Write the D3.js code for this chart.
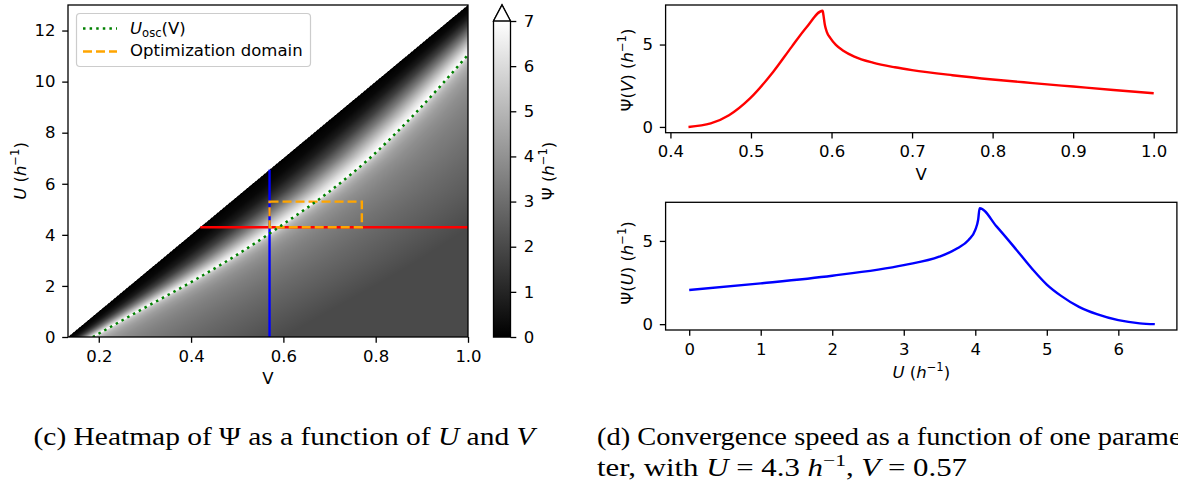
<!DOCTYPE html>
<html>
<head>
<meta charset="utf-8">
<script src="https://cdn.jsdelivr.net/npm/d3@7"></script>
<style>
body { margin: 0; background: #fff; }
svg { display: block; }
text { font-family: "DejaVu Sans", sans-serif; fill: #000; }
.didascalia { font-family: "Liberation Serif", "DejaVu Serif", serif; }
</style>
</head>
<body>
<div class="grafico"></div>
<script>
// ---- dati ----
// curva U_osc(V) (linea verde punteggiata)
var oscV = [0.187, 0.29, 0.40, 0.48, 0.57, 0.60, 0.70, 0.79, 0.88, 1.0];
var oscU = [0, 1.05, 2.15, 3.0, 4.05, 4.42, 5.7, 7.05, 8.65, 11.05];
// diagonale oltre la quale non ci sono valori
var diagV = [2 / 15, 1.0];
var diagU = [0, 13];
// tagli usati nei grafici a destra
var tagliU = 4.3;
var tagliV = 0.57;
// Psi(V) con U = 4.3
var psiV_V = [0.4224, 0.45, 0.4727, 0.4988, 0.5277, 0.5505, 0.569, 0.589, 0.5899, 0.5917, 0.594, 0.5986, 0.6054, 0.6146, 0.6283, 0.6513, 0.6787, 0.70, 0.75, 0.80, 0.85, 0.90, 0.95, 1.0];
var psiV_val = [0, 0.21, 0.71, 1.73, 3.35, 4.86, 6.05, 7.05, 6.81, 6.2, 5.79, 5.39, 4.98, 4.63, 4.27, 3.90, 3.62, 3.45, 3.14, 2.88, 2.66, 2.45, 2.24, 2.04];
// Psi(U) con V = 0.57
var psiU_U = [0, 1, 2, 3, 3.495, 3.75, 3.906, 4.0, 4.04, 4.061, 4.3, 4.577, 4.8, 5.0, 5.2, 5.45, 5.7, 6.0, 6.3, 6.51];
var psiU_val = [2.05, 2.45, 2.91, 3.55, 4.05, 4.56, 5.06, 5.66, 6.27, 6.97, 5.86, 4.46, 3.3, 2.38, 1.7, 1.04, 0.6, 0.24, 0.05, 0];
// dominio di ottimizzazione
var rettV = [0.57, 0.77];
var rettU = [4.3, 5.3];
// tick
var heatTickX = [0.2, 0.4, 0.6, 0.8, 1.0];
var heatTickY = [0, 2, 4, 6, 8, 10, 12];
var barraTick = [0, 1, 2, 3, 4, 5, 6, 7];
var altoTickX = [0.4, 0.5, 0.6, 0.7, 0.8, 0.9, 1.0];
var altoTickY = [0, 5];
var bassoTickX = [0, 1, 2, 3, 4, 5, 6];
var bassoTickY = [0, 5];

var w = 1178, h = 486;
var fs = 16.5;      // dimensione del testo dei grafici
var tick = 5.8;
var svg = d3.select(".grafico").append("svg")
    .attr("width", w)
    .attr("height", h);

// scale della heatmap
var hx = d3.scaleLinear().domain([2 / 15, 1]).range([68, 468]);
var hy = d3.scaleLinear().domain([0, 13]).range([337, 5]);
var grigio = d3.scaleLinear().domain([0, 7]).range([0, 255]).clamp(true);

// funzioni per costruire la mappa a partire dai tagli
var diagonale = d3.scaleLinear().domain(diagU).range(diagV);
var oscInv = d3.scaleLinear().domain(oscU).range(oscV);
var vPicco = psiV_V[psiV_val.indexOf(d3.max(psiV_val))];
var vDiag0 = diagonale(tagliU);
var salitaT = [], salitaVal = [], discesaD = [], discesaVal = [];
for (var i = 0; i < psiV_V.length; i++) {
    if (psiV_V[i] <= vPicco) {
        salitaT.push((psiV_V[i] - vDiag0) / (vPicco - vDiag0));
        salitaVal.push(psiV_val[i]);
    }
    if (psiV_V[i] >= vPicco) {
        discesaD.push(psiV_V[i] - vPicco);
        discesaVal.push(psiV_val[i]);
    }
}
var salita = d3.scaleLinear().domain(salitaT).range(salitaVal).clamp(true);
var discesa = d3.scaleLinear().domain(discesaD).range(discesaVal).clamp(true);

function psi(v, u) {
    var vd = diagonale(u);
    if (v < vd) return null;
    var vo = oscInv(u);
    if (v <= vo) return salita((v - vd) / (vo - vd));
    return discesa(v - vo);
}

// disegno la heatmap su un canvas
var pw = 400, ph = 332;
var canvas = document.createElement("canvas");
canvas.width = pw;
canvas.height = ph;
var ctx = canvas.getContext("2d");
var img = ctx.createImageData(pw, ph);
var sub = [0.25, 0.75];
for (var r = 0; r < ph; r++) {
    for (var c = 0; c < pw; c++) {
        var somma = 0;
        for (var a = 0; a < 2; a++) {
            for (var b = 0; b < 2; b++) {
                var v = hx.invert(68 + c + sub[a]);
                var u = hy.invert(5 + r + sub[b]);
                var p = psi(v, u);
                somma += (p === null) ? 255 : grigio(p);
            }
        }
        var g = Math.round(somma / 4);
        var k = (r * pw + c) * 4;
        img.data[k] = g; img.data[k + 1] = g; img.data[k + 2] = g; img.data[k + 3] = 255;
    }
}
ctx.putImageData(img, 0, 0);

svg.append("defs").append("clipPath").attr("id", "clipHeat")
    .append("rect").attr("x", 68).attr("y", 5).attr("width", 400).attr("height", 332);

svg.append("image")
    .attr("x", 68).attr("y", 5)
    .attr("width", pw).attr("height", ph)
    .attr("href", canvas.toDataURL());

var heat = svg.append("g").attr("clip-path", "url(#clipHeat)");

// linea rossa U = 4.3
heat.append("line")
    .attr("x1", hx(diagonale(tagliU))).attr("x2", hx(1))
    .attr("y1", hy(tagliU)).attr("y2", hy(tagliU))
    .attr("stroke", "red").attr("stroke-width", 2.4);

// linea blu V = 0.57
heat.append("line")
    .attr("x1", hx(tagliV)).attr("x2", hx(tagliV))
    .attr("y1", hy(0)).attr("y2", hy(diagonale.invert(tagliV)))
    .attr("stroke", "blue").attr("stroke-width", 2.4);

// rettangolo del dominio di ottimizzazione
heat.append("rect")
    .attr("x", hx(rettV[0])).attr("y", hy(rettU[1]))
    .attr("width", hx(rettV[1]) - hx(rettV[0]))
    .attr("height", hy(rettU[0]) - hy(rettU[1]))
    .attr("fill", "none").attr("stroke", "orange")
    .attr("stroke-width", 2.4).attr("stroke-dasharray", "9,4");

// curva U_osc
var lineaOsc = d3.line()
    .x(function (d, i) { return hx(oscV[i]); })
    .y(function (d, i) { return hy(oscU[i]); })
    .curve(d3.curveMonotoneX);
heat.append("path")
    .attr("d", lineaOsc(oscV))
    .attr("fill", "none").attr("stroke", "green")
    .attr("stroke-width", 2.5).attr("stroke-dasharray", "2.5,4.1");

// bordo
svg.append("rect").attr("x", 68).attr("y", 5).attr("width", 400).attr("height", 332)
    .attr("fill", "none").attr("stroke", "#000").attr("stroke-width", 1.3);

function stileAsse(g) {
    g.select(".domain").remove();
    g.selectAll(".tick line").attr("stroke", "#000").attr("stroke-width", 1.3);
    g.selectAll(".tick text").attr("font-size", fs).attr("fill", "#000");
}

svg.append("g").attr("transform", "translate(0,337)")
    .call(d3.axisBottom(hx).tickValues(heatTickX).tickFormat(d3.format(".1f")).tickSize(tick).tickPadding(7.2))
    .call(stileAsse);
svg.append("g").attr("transform", "translate(68,0)")
    .call(d3.axisLeft(hy).tickValues(heatTickY).tickFormat(d3.format("d")).tickSize(tick).tickPadding(6.8))
    .call(stileAsse);

// etichette con apici e pedici
function etichetta(sel, parti, f) {
    parti.forEach(function (p) {
        var t = sel.append("tspan").text(p.t);
        if (p.i) t.attr("font-style", "italic");
        if (p.sup) t.attr("font-size", f * 0.7).attr("dy", -f * 0.42);
        if (p.sub) t.attr("font-size", f * 0.7).attr("dy", f * 0.2);
        if (p.back) t.attr("dy", p.back);
    });
    return sel;
}
var apice = [{ t: "h", i: true }, { t: "\u22121", sup: true }, { t: ")", back: fs * 0.42 }];

svg.append("text").attr("x", 268).attr("y", 383.5).attr("text-anchor", "middle")
    .attr("font-size", fs).text("V");
etichetta(svg.append("text").attr("transform", "translate(25.5,171) rotate(-90)")
    .attr("text-anchor", "middle").attr("font-size", fs),
    [{ t: "U", i: true }, { t: " (" }].concat(apice), fs);

// legenda
var leg = svg.append("g");
leg.append("rect").attr("x", 76.5).attr("y", 13.5).attr("width", 234).attr("height", 53)
    .attr("rx", 3.5).attr("fill", "white").attr("fill-opacity", 0.8)
    .attr("stroke", "#cccccc").attr("stroke-width", 1.2);
leg.append("line").attr("x1", 83).attr("x2", 117).attr("y1", 28.5).attr("y2", 28.5)
    .attr("stroke", "green").attr("stroke-width", 2.5).attr("stroke-dasharray", "2.5,4.1");
leg.append("line").attr("x1", 83).attr("x2", 117).attr("y1", 51.5).attr("y2", 51.5)
    .attr("stroke", "orange").attr("stroke-width", 2.4).attr("stroke-dasharray", "9,4");
etichetta(leg.append("text").attr("x", 130).attr("y", 34).attr("font-size", fs),
    [{ t: "U", i: true }, { t: "osc", sub: true }, { t: "(V)", back: -fs * 0.2 }], fs);
leg.append("text").attr("x", 130).attr("y", 56.3).attr("font-size", fs).text("Optimization domain");

// barra dei colori
var cbY = d3.scaleLinear().domain([0, 7]).range([337, 21]);
var grad = svg.select("defs").append("linearGradient").attr("id", "gradGrigio")
    .attr("x1", 0).attr("y1", 1).attr("x2", 0).attr("y2", 0);
grad.append("stop").attr("offset", 0).attr("stop-color", "#000");
grad.append("stop").attr("offset", 1).attr("stop-color", "#fff");
svg.append("rect").attr("x", 493.5).attr("y", cbY(7)).attr("width", 17).attr("height", cbY(0) - cbY(7))
    .attr("fill", "url(#gradGrigio)");
svg.append("path")
    .attr("d", "M493.5," + cbY(0) + " L493.5," + cbY(7) + " L502,5 L510.5," + cbY(7) + " L510.5," + cbY(0) + " Z")
    .attr("fill", "none").attr("stroke", "#000").attr("stroke-width", 1.3);
svg.append("path")
    .attr("d", "M493.5," + cbY(7) + " L502,5 L510.5," + cbY(7) + " Z")
    .attr("fill", "#fff").attr("stroke", "#000").attr("stroke-width", 1.3);
svg.append("g").attr("transform", "translate(510.5,0)")
    .call(d3.axisRight(cbY).tickValues(barraTick).tickFormat(d3.format("d")).tickSize(tick).tickPadding(7.5))
    .call(stileAsse);
etichetta(svg.append("text").attr("transform", "translate(553.5,171) rotate(-90)")
    .attr("text-anchor", "middle").attr("font-size", fs),
    [{ t: "\u03a8 (" }].concat(apice), fs);

// ---- grafico in alto a destra: Psi(V) ----
var destraX0 = 665.6, destraX1 = 1176.9;
var vx = d3.scaleLinear().domain([0.394, 1.0288]).range([destraX0, destraX1]);
var vy = d3.scaleLinear().domain([-0.35, 7.4]).range([132.7, 5]);
svg.append("path")
    .attr("d", d3.line()
        .x(function (d, i) { return vx(psiV_V[i]); })
        .y(function (d, i) { return vy(psiV_val[i]); })
        .curve(d3.curveMonotoneX)(psiV_V))
    .attr("fill", "none").attr("stroke", "red").attr("stroke-width", 2.4);
svg.append("rect").attr("x", destraX0).attr("y", 5).attr("width", destraX1 - destraX0).attr("height", 127.7)
    .attr("fill", "none").attr("stroke", "#000").attr("stroke-width", 1.3);
svg.append("g").attr("transform", "translate(0,132.7)")
    .call(d3.axisBottom(vx).tickValues(altoTickX).tickFormat(d3.format(".1f")).tickSize(tick).tickPadding(7.2))
    .call(stileAsse);
svg.append("g").attr("transform", "translate(" + destraX0 + ",0)")
    .call(d3.axisLeft(vy).tickValues(altoTickY).tickFormat(d3.format("d")).tickSize(tick).tickPadding(6.8))
    .call(stileAsse);
svg.append("text").attr("x", (destraX0 + destraX1) / 2).attr("y", 180).attr("text-anchor", "middle")
    .attr("font-size", fs).text("V");
etichetta(svg.append("text").attr("transform", "translate(633,70) rotate(-90)")
    .attr("text-anchor", "middle").attr("font-size", fs),
    [{ t: "\u03a8(" }, { t: "V", i: true }, { t: ") (" }].concat(apice), fs);

// ---- grafico in basso a destra: Psi(U) ----
var ux = d3.scaleLinear().domain([-0.33, 6.819]).range([destraX0, destraX1]);
var uy = d3.scaleLinear().domain([-0.35, 7.32]).range([330, 202.3]);
svg.append("path")
    .attr("d", d3.line()
        .x(function (d, i) { return ux(psiU_U[i]); })
        .y(function (d, i) { return uy(psiU_val[i]); })
        .curve(d3.curveMonotoneX)(psiU_U))
    .attr("fill", "none").attr("stroke", "blue").attr("stroke-width", 2.4);
svg.append("rect").attr("x", destraX0).attr("y", 202.3).attr("width", destraX1 - destraX0).attr("height", 127.7)
    .attr("fill", "none").attr("stroke", "#000").attr("stroke-width", 1.3);
svg.append("g").attr("transform", "translate(0,330)")
    .call(d3.axisBottom(ux).tickValues(bassoTickX).tickFormat(d3.format("d")).tickSize(tick).tickPadding(7.2))
    .call(stileAsse);
svg.append("g").attr("transform", "translate(" + destraX0 + ",0)")
    .call(d3.axisLeft(uy).tickValues(bassoTickY).tickFormat(d3.format("d")).tickSize(tick).tickPadding(6.8))
    .call(stileAsse);
etichetta(svg.append("text").attr("x", (destraX0 + destraX1) / 2).attr("y", 377.5)
    .attr("text-anchor", "middle").attr("font-size", fs),
    [{ t: "U", i: true }, { t: " (" }].concat(apice), fs);
etichetta(svg.append("text").attr("transform", "translate(633,263) rotate(-90)")
    .attr("text-anchor", "middle").attr("font-size", fs),
    [{ t: "\u03a8(" }, { t: "U", i: true }, { t: ") (" }].concat(apice), fs);

// ---- didascalie ----
var fsD = 25;
etichetta(svg.append("text").attr("class", "didascalia").attr("x", 33.5).attr("y", 445)
    .attr("font-size", fsD).attr("textLength", 501).attr("lengthAdjust", "spacingAndGlyphs"),
    [{ t: "(c) Heatmap of \u03a8 as a function of " }, { t: "U", i: true }, { t: " and " }, { t: "V", i: true }], fsD);
svg.append("text").attr("class", "didascalia").attr("x", 597).attr("y", 445)
    .attr("font-size", fsD).attr("textLength", 594).attr("lengthAdjust", "spacingAndGlyphs")
    .text("(d) Convergence speed as a function of one parame-");
etichetta(svg.append("text").attr("class", "didascalia").attr("x", 597).attr("y", 476)
    .attr("font-size", fsD).attr("textLength", 370).attr("lengthAdjust", "spacingAndGlyphs"),
    [{ t: "ter, with " }, { t: "U", i: true }, { t: " = 4.3 " }, { t: "h", i: true }, { t: "\u22121", sup: true },
     { t: ", ", back: fsD * 0.42 }, { t: "V", i: true }, { t: " = 0.57" }], fsD);
</script>
</body>
</html>
